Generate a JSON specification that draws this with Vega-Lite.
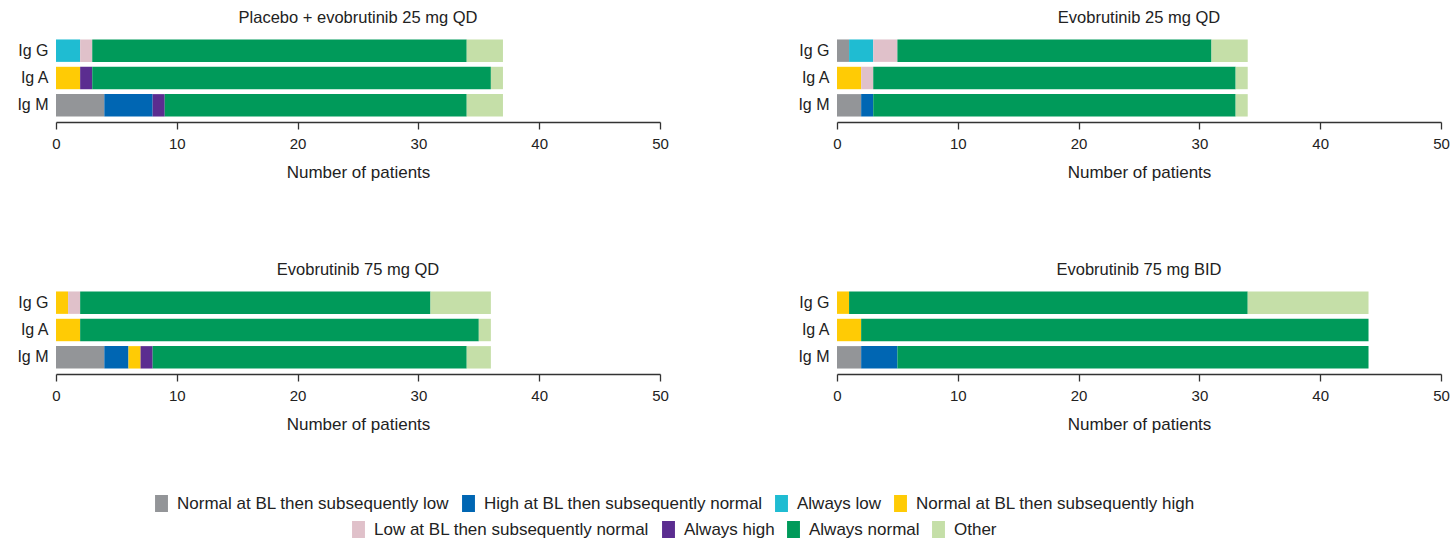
{
  "$schema": "https://vega.github.io/schema/vega-lite/v6.json",
  "padding": {"left": 16, "top": 9, "right": 0, "bottom": 0},
  "background": "white",
  "config": {
    "font": "Liberation Sans",
    "view": {"stroke": null},
    "axis": {"labelColor": "#222", "titleColor": "#222", "labelFont": "Liberation Sans", "titleFont": "Liberation Sans"}
  },
  "data": {"values": [
    {"panel": "Placebo + evobrutinib 25 mg QD", "ig": "Ig G", "cat": "Always low", "n": 2},
    {"panel": "Placebo + evobrutinib 25 mg QD", "ig": "Ig G", "cat": "Low at BL then subsequently normal", "n": 1},
    {"panel": "Placebo + evobrutinib 25 mg QD", "ig": "Ig G", "cat": "Always normal", "n": 31},
    {"panel": "Placebo + evobrutinib 25 mg QD", "ig": "Ig G", "cat": "Other", "n": 3},
    {"panel": "Placebo + evobrutinib 25 mg QD", "ig": "Ig A", "cat": "Normal at BL then subsequently high", "n": 2},
    {"panel": "Placebo + evobrutinib 25 mg QD", "ig": "Ig A", "cat": "Always high", "n": 1},
    {"panel": "Placebo + evobrutinib 25 mg QD", "ig": "Ig A", "cat": "Always normal", "n": 33},
    {"panel": "Placebo + evobrutinib 25 mg QD", "ig": "Ig A", "cat": "Other", "n": 1},
    {"panel": "Placebo + evobrutinib 25 mg QD", "ig": "Ig M", "cat": "Normal at BL then subsequently low", "n": 4},
    {"panel": "Placebo + evobrutinib 25 mg QD", "ig": "Ig M", "cat": "High at BL then subsequently normal", "n": 4},
    {"panel": "Placebo + evobrutinib 25 mg QD", "ig": "Ig M", "cat": "Always high", "n": 1},
    {"panel": "Placebo + evobrutinib 25 mg QD", "ig": "Ig M", "cat": "Always normal", "n": 25},
    {"panel": "Placebo + evobrutinib 25 mg QD", "ig": "Ig M", "cat": "Other", "n": 3},

    {"panel": "Evobrutinib 25 mg QD", "ig": "Ig G", "cat": "Normal at BL then subsequently low", "n": 1},
    {"panel": "Evobrutinib 25 mg QD", "ig": "Ig G", "cat": "Always low", "n": 2},
    {"panel": "Evobrutinib 25 mg QD", "ig": "Ig G", "cat": "Low at BL then subsequently normal", "n": 2},
    {"panel": "Evobrutinib 25 mg QD", "ig": "Ig G", "cat": "Always normal", "n": 26},
    {"panel": "Evobrutinib 25 mg QD", "ig": "Ig G", "cat": "Other", "n": 3},
    {"panel": "Evobrutinib 25 mg QD", "ig": "Ig A", "cat": "Normal at BL then subsequently high", "n": 2},
    {"panel": "Evobrutinib 25 mg QD", "ig": "Ig A", "cat": "Low at BL then subsequently normal", "n": 1},
    {"panel": "Evobrutinib 25 mg QD", "ig": "Ig A", "cat": "Always normal", "n": 30},
    {"panel": "Evobrutinib 25 mg QD", "ig": "Ig A", "cat": "Other", "n": 1},
    {"panel": "Evobrutinib 25 mg QD", "ig": "Ig M", "cat": "Normal at BL then subsequently low", "n": 2},
    {"panel": "Evobrutinib 25 mg QD", "ig": "Ig M", "cat": "High at BL then subsequently normal", "n": 1},
    {"panel": "Evobrutinib 25 mg QD", "ig": "Ig M", "cat": "Always normal", "n": 30},
    {"panel": "Evobrutinib 25 mg QD", "ig": "Ig M", "cat": "Other", "n": 1},

    {"panel": "Evobrutinib 75 mg QD", "ig": "Ig G", "cat": "Normal at BL then subsequently high", "n": 1},
    {"panel": "Evobrutinib 75 mg QD", "ig": "Ig G", "cat": "Low at BL then subsequently normal", "n": 1},
    {"panel": "Evobrutinib 75 mg QD", "ig": "Ig G", "cat": "Always normal", "n": 29},
    {"panel": "Evobrutinib 75 mg QD", "ig": "Ig G", "cat": "Other", "n": 5},
    {"panel": "Evobrutinib 75 mg QD", "ig": "Ig A", "cat": "Normal at BL then subsequently high", "n": 2},
    {"panel": "Evobrutinib 75 mg QD", "ig": "Ig A", "cat": "Always normal", "n": 33},
    {"panel": "Evobrutinib 75 mg QD", "ig": "Ig A", "cat": "Other", "n": 1},
    {"panel": "Evobrutinib 75 mg QD", "ig": "Ig M", "cat": "Normal at BL then subsequently low", "n": 4},
    {"panel": "Evobrutinib 75 mg QD", "ig": "Ig M", "cat": "High at BL then subsequently normal", "n": 2},
    {"panel": "Evobrutinib 75 mg QD", "ig": "Ig M", "cat": "Normal at BL then subsequently high", "n": 1},
    {"panel": "Evobrutinib 75 mg QD", "ig": "Ig M", "cat": "Always high", "n": 1},
    {"panel": "Evobrutinib 75 mg QD", "ig": "Ig M", "cat": "Always normal", "n": 26},
    {"panel": "Evobrutinib 75 mg QD", "ig": "Ig M", "cat": "Other", "n": 2},

    {"panel": "Evobrutinib 75 mg BID", "ig": "Ig G", "cat": "Normal at BL then subsequently high", "n": 1},
    {"panel": "Evobrutinib 75 mg BID", "ig": "Ig G", "cat": "Always normal", "n": 33},
    {"panel": "Evobrutinib 75 mg BID", "ig": "Ig G", "cat": "Other", "n": 10},
    {"panel": "Evobrutinib 75 mg BID", "ig": "Ig A", "cat": "Normal at BL then subsequently high", "n": 2},
    {"panel": "Evobrutinib 75 mg BID", "ig": "Ig A", "cat": "Always normal", "n": 42},
    {"panel": "Evobrutinib 75 mg BID", "ig": "Ig M", "cat": "Normal at BL then subsequently low", "n": 2},
    {"panel": "Evobrutinib 75 mg BID", "ig": "Ig M", "cat": "High at BL then subsequently normal", "n": 3},
    {"panel": "Evobrutinib 75 mg BID", "ig": "Ig M", "cat": "Always normal", "n": 39}
  ]},
  "transform": [
    {"stack": "n", "groupby": ["panel", "ig"], "as": ["n0", "n1"]}
  ],
  "facet": {
    "field": "panel",
    "type": "nominal",
    "sort": ["Placebo + evobrutinib 25 mg QD", "Evobrutinib 25 mg QD", "Evobrutinib 75 mg QD", "Evobrutinib 75 mg BID"],
    "header": {"title": null, "labelFontSize": 16.5, "labelFont": "Liberation Sans", "labelColor": "#222", "labelPadding": 8}
  },
  "columns": 2,
  "spacing": {"row": 80, "column": 128},
  "resolve": {"axis": {"x": "independent", "y": "independent"}},
  "spec": {
    "width": 604,
    "height": 88,
    "encoding": {
      "x": {"field": "n0", "type": "quantitative", "title": "Number of patients",
        "scale": {"domain": [0, 50], "nice": false},
        "axis": {"values": [0, 10, 20, 30, 40, 50], "grid": false, "labelFlush": false, "domainColor": "#333", "domainWidth": 1.3, "tickColor": "#333", "tickWidth": 1.3, "tickSize": 7, "labelFontSize": 15, "labelPadding": 7.5, "titleFontSize": 17, "titleFontWeight": "normal", "titlePadding": 13}},
      "x2": {"field": "n1"},
      "y": {"field": "ig", "type": "nominal", "title": null, "sort": ["Ig G", "Ig A", "Ig M"],
        "scale": {"paddingInner": 0.18, "paddingOuter": 0.2},
        "axis": {"domain": false, "ticks": false, "labelFontSize": 16, "labelPadding": 8}}
    },
    "layer": [
      {
        "transform": [{"filter": {"field": "cat", "oneOf": ["Normal at BL then subsequently low", "High at BL then subsequently normal", "Always low", "Normal at BL then subsequently high"]}}],
        "mark": {"type": "bar", "strokeWidth": 0},
        "encoding": {
          "color": {"field": "cat", "type": "nominal",
            "scale": {"domain": ["Normal at BL then subsequently low", "High at BL then subsequently normal", "Always low", "Normal at BL then subsequently high"], "range": ["#939598", "#0066b3", "#1fbcd2", "#ffcb05"]},
            "legend": {"title": null, "orient": "none", "legendX": 97, "legendY": 461, "direction": "horizontal", "columns": 4, "symbolType": "M-0.76,-1H0.76V1H-0.76Z", "symbolSize": 289, "symbolStrokeWidth": 0, "labelFontSize": 17, "labelColor": "#222", "labelLimit": 400, "labelOffset": 7, "columnPadding": 10, "gridAlign": "none"}}
        }
      },
      {
        "transform": [{"filter": {"field": "cat", "oneOf": ["Low at BL then subsequently normal", "Always high", "Always normal", "Other"]}}],
        "mark": {"type": "bar", "strokeWidth": 0},
        "encoding": {
          "fill": {"field": "cat", "type": "nominal",
            "scale": {"domain": ["Low at BL then subsequently normal", "Always high", "Always normal", "Other"], "range": ["#e0c1ca", "#5b2d90", "#009a5a", "#c5dfa8"]},
            "legend": {"title": null, "orient": "none", "legendX": 294, "legendY": 487, "direction": "horizontal", "columns": 4, "symbolType": "M-0.76,-1H0.76V1H-0.76Z", "symbolSize": 289, "symbolStrokeWidth": 0, "labelFontSize": 17, "labelColor": "#222", "labelLimit": 400, "labelOffset": 7, "columnPadding": 10, "gridAlign": "none"}}
        }
      }
    ]
  }
}
